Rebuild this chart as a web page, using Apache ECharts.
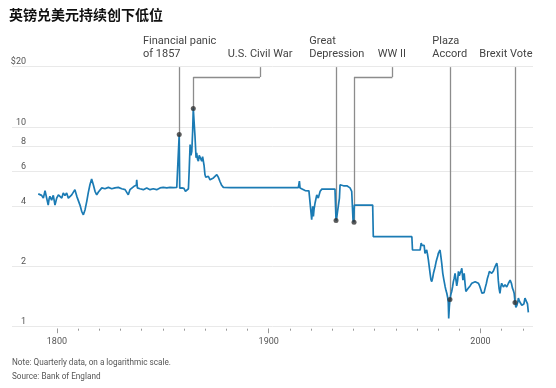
<!DOCTYPE html>
<html><head><meta charset="utf-8">
<script src="https://cdn.jsdelivr.net/npm/echarts@6/dist/echarts.min.js"></script>
<style>html,body{margin:0;padding:0;background:#fff}#c{width:556px;height:388px}</style>
</head><body><div id="c"></div>
<script>
const titleText = '英镑兑美元持续创下低位';
const noteText = 'Note: Quarterly data, on a logarithmic scale.';
const sourceText = 'Source: Bank of England';

const years = [1791.2,1792.0,1792.8,1793.6,1794.4,1795.2,1795.9,1796.3,1796.7,1797.5,1798.3,1799.1,1799.9,1800.7,1801.5,1802.3,1803.0,1803.8,1804.6,1805.4,1806.2,1807.0,1807.7,1808.5,1809.4,1810.1,1810.9,1811.7,1812.5,1813.3,1814.1,1814.8,1815.6,1816.4,1817.2,1818.0,1818.8,1819.6,1820.4,1821.2,1821.9,1822.7,1823.5,1824.3,1825.1,1825.9,1826.6,1827.4,1828.2,1829.0,1829.8,1830.6,1831.4,1832.2,1833.0,1833.7,1834.5,1835.3,1836.4,1837.5,1837.7,1838.0,1839.2,1840.0,1840.8,1841.6,1842.4,1843.2,1844.0,1844.8,1845.5,1846.3,1847.1,1847.9,1848.7,1849.5,1850.2,1851.0,1851.9,1852.6,1853.4,1855.0,1856.6,1857.5,1857.75,1858.0,1859.0,1860.0,1860.7,1861.5,1862.1,1862.5,1862.9,1863.3,1863.7,1864.1,1864.4,1864.8,1865.2,1865.7,1866.0,1866.4,1866.8,1867.2,1867.6,1868.0,1868.4,1868.8,1869.1,1869.5,1869.9,1870.3,1870.7,1871.1,1871.5,1872.3,1873.1,1873.9,1874.7,1875.5,1876.2,1876.6,1877.0,1877.8,1878.6,1879.5,1882,1885,1888,1891,1894,1897,1900,1903,1906,1909,1912,1914.0,1914.5,1914.8,1915.6,1917.2,1919.0,1919.5,1920.0,1920.3,1920.8,1921.1,1921.4,1921.9,1922.7,1923.4,1924.3,1925.1,1928,1931.3,1931.8,1932.1,1932.5,1932.9,1933.4,1933.7,1934.5,1935.3,1936.1,1936.9,1937.7,1938.4,1939.2,1939.6,1939.8,1940.1,1940.45,1949.1,1949.4,1967.6,1967.9,1971.5,1972.0,1972.4,1972.8,1973.4,1973.8,1974.2,1974.6,1975.0,1975.4,1975.8,1976.2,1976.6,1977.0,1977.4,1977.8,1978.2,1978.6,1979.0,1979.4,1979.8,1980.1,1980.5,1980.9,1981.3,1981.7,1982.2,1982.7,1983.3,1983.7,1984.1,1984.5,1984.8,1985.0,1985.3,1985.6,1986.0,1986.4,1986.8,1987.2,1987.6,1988.0,1988.4,1988.8,1989.2,1989.6,1990.0,1990.4,1990.8,1991.2,1991.7,1992.0,1992.3,1992.7,1993.1,1993.7,1994.3,1995.1,1995.9,1996.7,1997.5,1998.2,1999.0,1999.6,2000.2,2000.7,2001.1,2001.7,2002.2,2002.8,2003.3,2003.8,2004.2,2004.8,2005.3,2006.1,2006.9,2007.7,2008.0,2008.4,2008.8,2009.2,2009.6,2010.0,2010.8,2011.6,2012.4,2013.2,2013.6,2014.0,2014.6,2015.1,2015.5,2015.9,2016.3,2016.7,2017.2,2017.6,2017.9,2018.4,2019.0,2019.5,2020.0,2020.5,2021.0,2021.4,2021.8,2022.2,2022.6];
const rates = [4.62,4.58,4.54,4.40,4.79,4.85,4.06,4.35,4.49,4.30,4.54,4.06,4.40,4.57,4.67,4.40,4.67,4.54,4.67,4.40,4.49,4.57,4.67,4.85,4.49,4.40,4.06,3.78,3.63,3.85,4.24,4.67,5.13,5.48,5.13,4.76,4.57,4.72,4.79,4.95,5.04,4.90,4.85,4.98,4.93,4.90,4.97,4.95,4.92,4.98,4.94,4.90,4.93,4.85,4.80,4.57,4.85,4.95,5.04,5.10,5.43,4.95,4.90,4.94,4.85,4.92,4.95,4.89,4.85,4.93,4.90,4.95,4.85,4.93,4.95,4.92,4.98,4.93,4.95,4.97,4.98,4.96,4.98,4.95,9.16,4.93,4.95,4.92,4.76,4.85,4.90,6.2,8.16,7.2,7.55,9.5,12.4,10.5,9.0,7.0,7.4,6.9,6.74,7.2,7.1,6.9,6.74,7.1,7.0,6.4,5.77,5.6,5.55,5.62,5.66,5.43,5.5,5.55,5.6,5.77,5.6,5.55,5.33,5.1,4.98,4.97,4.96,4.97,4.96,4.97,4.96,4.97,4.97,4.96,4.97,4.97,4.97,4.97,5.35,4.95,4.85,4.80,4.78,4.76,3.71,3.43,4.0,3.56,3.85,4.16,4.57,4.40,4.76,4.88,4.88,4.88,3.40,3.50,3.45,3.56,4.4,5.13,5.19,5.07,5.12,5.07,5.05,4.95,4.76,4.67,3.45,3.33,4.06,4.06,2.82,2.82,2.42,2.42,2.62,2.55,2.50,2.55,2.33,2.38,2.42,2.30,2.16,2.0,1.85,1.72,1.68,1.75,1.85,1.92,2.0,2.1,2.18,2.25,2.33,2.38,2.42,2.25,2.08,1.85,1.72,1.59,1.52,1.47,1.40,1.32,1.10,1.26,1.37,1.45,1.5,1.58,1.68,1.75,1.85,1.72,1.60,1.70,1.89,1.80,1.85,1.90,1.96,1.71,1.78,1.85,1.65,1.50,1.53,1.56,1.60,1.65,1.62,1.68,1.66,1.65,1.60,1.53,1.47,1.44,1.48,1.56,1.65,1.75,1.82,1.89,1.85,1.85,1.90,2.0,2.08,2.0,1.71,1.55,1.47,1.58,1.65,1.58,1.62,1.58,1.65,1.62,1.71,1.65,1.56,1.52,1.47,1.33,1.25,1.28,1.33,1.39,1.34,1.31,1.28,1.26,1.30,1.39,1.38,1.36,1.30,1.18];

const yTickValues = [1, 2, 4, 6, 8, 10, 20];
const xLabelYears = [1800, 1900, 2000];
const xMinorYears = [1800,1810,1820,1830,1840,1850,1860,1870,1880,1890,1900,1910,1920,1930,1940,1950,1960,1970,1980,1990,2000,2010,2020];

const eventNames = ['Financial panic\nof 1857', 'U.S. Civil War', 'Great\nDepression', 'WW II', 'Plaza\nAccord', 'Brexit Vote'];
const eventYears = [1857.75, 1864.4, 1931.8, 1940.3, 1985.6, 2016.3];
const eventValues = [9.16, 12.37, 3.40, 3.33, 1.37, 1.32];
const leaderYears = [1857.75, 1895.9, 1931.8, 1958.4, 1985.6, 2016.3];

// layout (pixels) for annotation texts
const labelLeft = [143, 227.7, 309.3, 377.7, 432.3, 479.3];
const labelLastBaseline = 57.7;
const LEADER_TOP = 19.9, LEADER_ELBOW = 17.75;

const chart = echarts.init(document.getElementById('c'), null, {renderer: 'canvas'});

const leaderSegs = [];
eventYears.forEach((ey, i) => {
  const ly = leaderYears[i];
  if (Math.abs(ly - ey) < 0.01) {
    leaderSegs.push([{coord: [ey, LEADER_TOP]}, {coord: [ey, eventValues[i]]}]);
  } else {
    leaderSegs.push([{coord: [ly, LEADER_TOP]}, {coord: [ly, LEADER_ELBOW]}]);
    leaderSegs.push([{coord: [ly, LEADER_ELBOW]}, {coord: [ey, LEADER_ELBOW]}]);
    leaderSegs.push([{coord: [ey, LEADER_ELBOW]}, {coord: [ey, eventValues[i]]}]);
  }
});

const fontFam = 'Roboto, "Noto Sans", sans-serif';
const graphics = [
  {type: 'text', left: 9, top: 8, style: {text: titleText, font: 'bold 14px "Noto Sans CJK SC"', fill: '#111'}},
  {type: 'text', left: 12, top: 359, style: {text: noteText, font: '8.2px ' + fontFam, fill: '#555'}},
  {type: 'text', left: 12, top: 373, style: {text: sourceText, font: '8.2px ' + fontFam, fill: '#555'}}
];
eventNames.forEach((n, i) => {
  graphics.push({type: 'text', x: labelLeft[i], y: labelLastBaseline + 3,
    style: {text: n, font: '11px ' + fontFam, fill: '#444', lineHeight: 12.7, verticalAlign: 'bottom', align: 'left'}});
});

chart.setOption({
  animation: false,
  backgroundColor: '#fff',
  grid: {left: 12, right: 23, top: 66.7, bottom: 61.3, containLabel: false},
  xAxis: [
    {type: 'value', min: 1778.8, max: 2024.8, offset: 2,
     axisLine: {show: false}, splitLine: {show: false},
     axisTick: {show: true, length: 2, customValues: xMinorYears, lineStyle: {color: '#999', width: 1}},
     axisLabel: {show: false}},
    {type: 'value', min: 1778.8, max: 2024.8, offset: 2, position: 'bottom',
     axisLine: {show: false}, splitLine: {show: false},
     axisTick: {show: true, length: 4.5, customValues: xLabelYears, lineStyle: {color: '#999', width: 1}},
     axisLabel: {show: true, customValues: xLabelYears, margin: 9, color: '#555', fontSize: 9, fontFamily: fontFam, formatter: v => String(v)}}
  ],
  yAxis: {type: 'log', logBase: 10, min: 1, max: 20,
    axisLine: {show: false},
    axisTick: {show: false, customValues: yTickValues},
    splitLine: {show: true, lineStyle: {color: '#e9e9e9', width: 1}},
    axisLabel: {show: true, inside: true, customValues: yTickValues, align: 'right', verticalAlign: 'bottom', margin: 14,
      color: '#555', fontSize: 9, fontFamily: fontFam, formatter: v => (Math.round(v) === 20 ? '$20' : String(Math.round(v)))}},
  series: [
    {type: 'line', xAxisIndex: 0, data: [], z: 1, silent: true,
     markLine: {z: 1, silent: true, symbol: 'none', label: {show: false}, animation: false,
       lineStyle: {color: '#8c8c8c', width: 1.3, type: 'solid'}, data: leaderSegs}},
    {type: 'line', xAxisIndex: 0, data: years.map((y, i) => [y, rates[i]]), showSymbol: false, symbol: 'none',
     lineStyle: {color: '#1b7bb4', width: 1.7}, z: 3},
    {type: 'scatter', xAxisIndex: 0, data: eventYears.map((y, i) => [y, eventValues[i]]), symbol: 'circle', symbolSize: 5,
     itemStyle: {color: '#333'}, z: 5, silent: true}
  ],
  graphic: graphics
});
</script></body></html>
